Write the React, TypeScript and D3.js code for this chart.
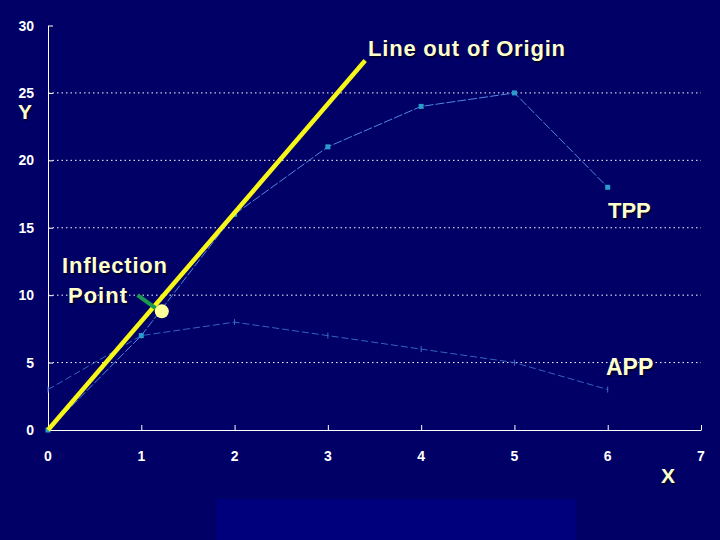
import { useRef, useEffect } from 'react';
import * as d3 from 'd3';

// x = input units, y = output
const xValues = [0, 1, 2, 3, 4, 5, 6];
const tppValues = [0, 7, 16, 21, 24, 25, 18];
const appValues = [3, 7, 8, 7, 6, 5, 3];

// straight line drawn out of the origin, tangent to TPP
const rayX = [0, 3.4];
const rayY = [0, 27.4];

// inflection point marker (green pointer + dot)
const inflectionDot = { x: 1.22, y: 8.8 };
const pointerFrom = { x: 0.96, y: 10.0 };
const pointerTo = { x: 1.16, y: 9.0 };

const xTicks = [0, 1, 2, 3, 4, 5, 6, 7];
const yTicks = [0, 5, 10, 15, 20, 25, 30];
const gridValues = [5, 10, 15, 20, 25];

const W = 720;
const H = 540;
const cream = '#ffffcc';
const font = '"Liberation Sans", Arial, sans-serif';

export default function App() {
  const svgRef = useRef<SVGSVGElement>(null);

  useEffect(() => {
    if (!svgRef.current) return;
    const svg = d3.select(svgRef.current);
    svg.selectAll('*').remove();

    // background
    svg.append('rect').attr('width', W).attr('height', H).attr('fill', '#000066');
    svg
      .append('rect')
      .attr('x', 216)
      .attr('y', 499)
      .attr('width', 360)
      .attr('height', 41)
      .attr('fill', '#00007c');

    const x = d3.scaleLinear().domain([0, 7]).range([48, 701]);
    const y = d3.scaleLinear().domain([0, 30]).range([430, 25.5]);

    // grid lines
    svg
      .append('g')
      .selectAll('line')
      .data(gridValues)
      .enter()
      .append('line')
      .attr('x1', x(0))
      .attr('x2', x(7))
      .attr('y1', (d) => y(d))
      .attr('y2', (d) => y(d))
      .attr('stroke', '#ffffff')
      .attr('stroke-width', 1)
      .attr('stroke-dasharray', '1.5,3');

    // axes (ticks point inward)
    svg
      .append('g')
      .attr('transform', `translate(0,${y(0)})`)
      .call(d3.axisTop(x).tickValues(xTicks).tickSize(5).tickSizeOuter(0).tickFormat(() => ''))
      .call((g) => g.select('.domain').attr('stroke', '#ffffff'))
      .call((g) => g.selectAll('.tick line').attr('stroke', '#ffffff'));

    svg
      .append('g')
      .attr('transform', `translate(${x(0)},0)`)
      .call(d3.axisRight(y).tickValues(yTicks).tickSize(5).tickSizeOuter(0).tickFormat(() => ''))
      .call((g) => g.select('.domain').attr('stroke', '#ffffff'))
      .call((g) => g.selectAll('.tick line').attr('stroke', '#ffffff'));

    // tick labels
    svg
      .append('g')
      .selectAll('text')
      .data(xTicks)
      .enter()
      .append('text')
      .attr('x', (d) => x(d))
      .attr('y', 461)
      .attr('text-anchor', 'middle')
      .attr('fill', '#ffffff')
      .attr('font-family', font)
      .attr('font-weight', 'bold')
      .attr('font-size', 14)
      .text((d) => d);

    svg
      .append('g')
      .selectAll('text')
      .data(yTicks)
      .enter()
      .append('text')
      .attr('x', 34)
      .attr('y', (d) => y(d) + 5)
      .attr('text-anchor', 'end')
      .attr('fill', '#ffffff')
      .attr('font-family', font)
      .attr('font-weight', 'bold')
      .attr('font-size', 14)
      .text((d) => d);

    const pts = (vals: number[]) => xValues.map((xv, i) => [xv, vals[i]] as [number, number]);
    const line = d3
      .line<[number, number]>()
      .x((d) => x(d[0]))
      .y((d) => y(d[1]));

    // APP
    svg
      .append('path')
      .attr('d', line(pts(appValues)))
      .attr('fill', 'none')
      .attr('stroke', '#3563c0')
      .attr('stroke-width', 1)
      .attr('stroke-dasharray', '7,3');
    svg
      .append('g')
      .selectAll('line')
      .data(pts(appValues))
      .enter()
      .append('line')
      .attr('x1', (d) => x(d[0]))
      .attr('x2', (d) => x(d[0]))
      .attr('y1', (d) => y(d[1]) - 3)
      .attr('y2', (d) => y(d[1]) + 3)
      .attr('stroke', '#3d6cc8')
      .attr('stroke-width', 1);

    // TPP
    svg
      .append('path')
      .attr('d', line(pts(tppValues)))
      .attr('fill', 'none')
      .attr('stroke', '#5088e0')
      .attr('stroke-width', 1)
      .attr('stroke-dasharray', '9,2');
    svg
      .append('g')
      .selectAll('rect')
      .data(pts(tppValues))
      .enter()
      .append('rect')
      .attr('x', (d) => x(d[0]) - 2.5)
      .attr('y', (d) => y(d[1]) - 2.5)
      .attr('width', 5)
      .attr('height', 5)
      .attr('fill', '#2a9ccc');

    // ray from origin
    svg
      .append('line')
      .attr('x1', x(rayX[0]))
      .attr('y1', y(rayY[0]))
      .attr('x2', x(rayX[1]))
      .attr('y2', y(rayY[1]))
      .attr('stroke', '#f6f61a')
      .attr('stroke-width', 4.5);

    // inflection pointer + dot
    svg
      .append('line')
      .attr('x1', x(pointerFrom.x))
      .attr('y1', y(pointerFrom.y))
      .attr('x2', x(pointerTo.x))
      .attr('y2', y(pointerTo.y))
      .attr('stroke', '#1a9a50')
      .attr('stroke-width', 4);
    svg
      .append('circle')
      .attr('cx', x(inflectionDot.x))
      .attr('cy', y(inflectionDot.y))
      .attr('r', 7)
      .attr('fill', '#ffff99');

    // annotations (cream text with a faint dark shadow)
    const label = (tx: number, ty: number, txt: string, size: number, len?: number) => {
      const add = (dx: number, fill: string) => {
        const t = svg
          .append('text')
          .attr('x', tx + dx)
          .attr('y', ty + dx)
          .attr('fill', fill)
          .attr('font-family', font)
          .attr('font-weight', 'bold')
          .attr('font-size', size)
          .text(txt);
        if (len) t.attr('textLength', len).attr('lengthAdjust', 'spacing');
      };
      add(1.5, '#000033');
      add(0, cream);
    };
    label(368, 56, 'Line out of Origin', 22, 197);
    label(608, 218, 'TPP', 22);
    label(606, 375, 'APP', 23);
    label(62, 273, 'Inflection', 22, 105);
    label(68, 303, 'Point', 22, 59);
    label(18, 119, 'Y', 21);
    label(661, 483, 'X', 21);
  }, []);

  return (
    <div style={{ position: 'fixed', left: 0, top: 0 }}>
      <svg ref={svgRef} width={W} height={H} style={{ display: 'block' }} />
    </div>
  );
}
